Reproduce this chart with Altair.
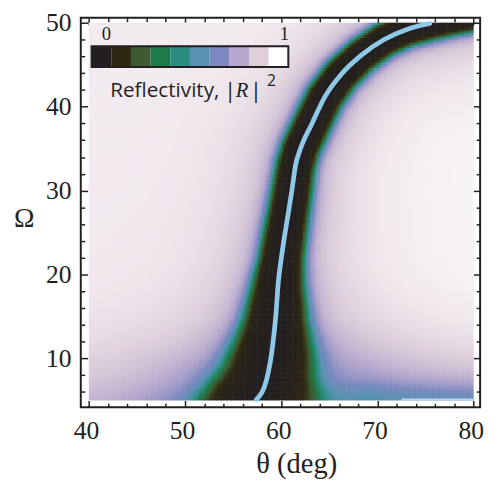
import numpy as np
import pandas as pd
import altair as alt

alt.data_transformers.disable_max_rows()

# ---------------- values ----------------
# light-blue curve (position of the reflectivity minimum)
line_theta = [57.4, 58.5, 59.1, 59.45, 59.7, 59.95, 60.4, 60.8, 61.1, 61.5, 62.0, 63.2, 64.5, 66.2, 68.3, 70.7, 73.05, 75.45]
line_omega = [5.1, 7.6, 11.5, 15.3, 19.2, 21.5, 25.0, 27.8, 30.0, 33.1, 35.0, 38.0, 41.1, 43.8, 46.1, 48.0, 49.2, 49.9]
# dark band continues past the ends of the drawn curve
band_low_theta = [56.9]
band_low_omega = [3.0]
band_high_theta = [77.8, 80.0, 82.0]
band_high_omega = [50.5, 50.95, 51.25]
# width of the dark dip (deg) along the band, against Omega
width_omega = [3, 5, 7.6, 10, 14.6, 19, 22, 28, 34, 41, 48, 52]
width_deg = [6.3, 5.9, 5.0, 4.6, 3.45, 2.75, 2.4, 2.2, 2.05, 2.0, 1.8, 1.75]
# share of the broad halo of the dip, against Omega
halo_omega = [5, 10, 15, 52]
halo_share = [0.42, 0.32, 0.25, 0.25]
# weak second branch lying just under Omega = 5 on the right
branch_theta = [72.5, 80.0]
branch_omega = [4.85, 4.85]
branch_onset = [62.0, 69.0]
branch_depth = 0.3
branch_width = 2.3
# faint overall absorption
bg_theta = [40, 55, 70, 80]
bg_abs = [0.045, 0.035, 0.02, 0.015]
floor_omega = [5, 8, 12, 18]
floor_abs = [0.05, 0.03, 0.012, 0.0]

# colour bar of the legend (0 -> 1)
cmap_colors = ["#231f20", "#2e2811", "#3e5a31", "#1d7a49", "#2b8c80",
               "#5693b1", "#7b89c0", "#b5a7cd", "#e0d0dc", "#ffffff"]
x_major = [40, 50, 60, 70, 80]
x_minor = [v for v in range(40, 81, 2) if v % 10]
y_major = [10, 20, 30, 40, 50]
y_minor = [v for v in range(6, 51, 2) if v % 10]

# ---------------- build reflectivity map ----------------
PXT, PXO = 9.78, 8.53          # pixel aspect of the two axes
pts_t = np.array(band_low_theta + line_theta + band_high_theta)
pts_o = np.array(band_low_omega + line_omega + band_high_omega)
dt, do = [], []
for i in range(len(pts_t) - 1):
    f = np.linspace(0, 1, 30, endpoint=False)
    dt.append(pts_t[i] + f * (pts_t[i + 1] - pts_t[i]))
    do.append(pts_o[i] + f * (pts_o[i + 1] - pts_o[i]))
dt.append([pts_t[-1]]); do.append([pts_o[-1]])
dt = np.concatenate(dt); do = np.concatenate(do)

nt, no = 160, 150
st, so = 40.0 / nt, 45.0 / no
tc = 40 + (np.arange(nt) + 0.5) * st
oc = 5 + (np.arange(no) + 0.5) * so
rows = []
for j, o in enumerate(oc):
    d2 = ((tc[:, None] - dt[None, :]) * PXT) ** 2 + ((o - do[None, :]) * PXO) ** 2
    d = np.sqrt(d2.min(axis=1))
    s = np.interp(o, width_omega, width_deg) * PXT
    x = d / s
    T = np.interp(o, halo_omega, halo_share)
    a_main = (1 - T) / (1 + x ** 8) + T / (1 + (x / 1.6) ** 2)
    ramp = np.clip((tc - branch_onset[0]) / (branch_onset[1] - branch_onset[0]), 0, 1)
    a2 = branch_depth * ramp / (1 + ((o - np.interp(tc, branch_theta, branch_omega)) / branch_width) ** 2)
    bg = np.interp(tc, bg_theta, bg_abs) + np.interp(o, floor_omega, floor_abs)
    R = (1 - a_main) * (1 - a2) * (1 - bg)
    t0 = 40 + np.arange(nt) * st
    o0 = 5 + j * so
    for i in range(nt):
        rows.append((round(t0[i], 3), round(min(t0[i] + st * 1.25, 80.0), 3),
                     round(o0, 3), round(min(o0 + so * 1.25, 50.0), 3), round(float(R[i]), 3)))
heat_df = pd.DataFrame(rows, columns=["t0", "t1", "o0", "o1", "R"])
line_df = pd.DataFrame({"theta": line_theta, "omega": line_omega})
branch_df = pd.DataFrame({"t0": [branch_theta[0]], "t1": [branch_theta[1]], "o0": [5.0], "o1": [5.22]})

# ---------------- chart ----------------
serif = "Liberation Serif"
sans = "Open Sans"
ink = "#231f20"
XD = [39.16, 80.67]
YD = [4.18, 50.58]
W, H, TOP, LEFT = 406, 396, 14, 82
xs = alt.Scale(domain=XD, nice=False, zero=False)
ys = alt.Scale(domain=YD, nice=False, zero=False)
cs = alt.Scale(domain=[i / 9 for i in range(10)], range=cmap_colors, interpolate="rgb", clamp=True)


def px_t(px):   # page pixel -> theta (for placing the legend)
    return XD[0] + (px - LEFT) / W * (XD[1] - XD[0])


def px_o(py):   # page pixel -> Omega
    return YD[1] - (py - TOP) / H * (YD[1] - YD[0])


def tick_axis(orient, vals, size):
    return alt.Axis(orient=orient, values=vals, labels=False, ticks=True,
                    tickSize=alt.ExprRef(expr=str(-size)), tickColor=ink, tickWidth=1.5,
                    domain=False, grid=False, title=None)


heat = alt.Chart(heat_df).mark_rect(strokeWidth=0).encode(
    x=alt.X("t0:Q", scale=xs, axis=alt.Axis(
        orient="bottom", values=x_major, ticks=False, domain=False, grid=False,
        labelFont=serif, labelFontSize=26, labelColor=ink, labelPadding=32, labelOffset=-3,
        labelBaseline="alphabetic", labelFlush=False, labelOverlap=False,
        title="θ (deg)", titleFont=serif, titleFontSize=29, titleFontWeight="normal",
        titleColor=ink, titleX=219, titleY=66, titleBaseline="alphabetic", titleAlign="center")),
    x2="t1",
    y=alt.Y("o0:Q", scale=ys, axis=alt.Axis(
        orient="left", values=y_major, ticks=False, domain=False, grid=False,
        labelFont=serif, labelFontSize=26, labelColor=ink, labelPadding=10,
        labelBaseline="middle", labelFlush=False, labelOverlap=False,
        title="Ω", titleFont=serif, titleFontSize=28, titleFontWeight="normal",
        titleColor=ink, titleAngle=0, titleX=-58, titleY=204,
        titleBaseline="middle", titleAlign="center")),
    y2="o1",
    color=alt.Color("R:Q", scale=cs, legend=None),
)

branch = alt.Chart(branch_df).mark_rect(color="#b9d9ea").encode(
    x=alt.X("t0:Q", scale=xs, axis=None), x2="t1",
    y=alt.Y("o0:Q", scale=ys, axis=None), y2="o1")

line = alt.Chart(line_df).mark_line(color="#8ec9e8", strokeWidth=4.8, strokeCap="round",
                                    interpolate="monotone").encode(
    x=alt.X("theta:Q", scale=xs, axis=None), y=alt.Y("omega:Q", scale=ys, axis=None))

# legend (placed at the reference's pixel position)
LT0, LT1, LO0, LO1 = px_t(93), px_t(293), px_o(64), px_o(43)
wsw = (LT1 - LT0) / 10
sw_df = pd.DataFrame({"t0": [LT0 + i * wsw for i in range(10)],
                      "t1": [LT0 + (i + 1) * wsw for i in range(10)],
                      "o0": [LO0] * 10, "o1": [LO1] * 10,
                      "R": [i / 9 for i in range(10)]})
swatch = alt.Chart(sw_df).mark_rect().encode(
    x=alt.X("t0:Q", scale=xs, axis=None), x2="t1",
    y=alt.Y("o0:Q", scale=ys, axis=None), y2="o1",
    color=alt.Color("R:Q", scale=cs, legend=None))
box = alt.Chart(pd.DataFrame({"t0": [LT0], "t1": [LT1], "o0": [LO0], "o1": [LO1]})).mark_rect(
    fill=None, fillOpacity=0, stroke=ink, strokeWidth=2).encode(
    x=alt.X("t0:Q", scale=xs, axis=None), x2="t1",
    y=alt.Y("o0:Q", scale=ys, axis=None), y2="o1")


def txt(df, **kw):
    return alt.Chart(df).mark_text(color=ink, baseline="alphabetic", **kw).encode(
        x=alt.X("t:Q", scale=xs, axis=None), y=alt.Y("o:Q", scale=ys, axis=None), text="s:N")


t_nums = txt(pd.DataFrame({"t": [px_t(108), px_t(289)], "o": [px_o(37), px_o(37)], "s": ["0", "1"]}),
             font=serif, fontSize=19, align="center")
t_word = txt(pd.DataFrame({"t": [px_t(112)], "o": [px_o(94)], "s": ["Reflectivity,"]}),
             font=sans, fontSize=21, align="left")
t_bars = txt(pd.DataFrame({"t": [px_t(234), px_t(260)], "o": [px_o(96), px_o(96)], "s": ["|", "|"]}),
             font=sans, fontSize=22, align="center")
t_R = txt(pd.DataFrame({"t": [px_t(246)], "o": [px_o(94)], "s": ["R"]}),
          font=serif, fontSize=21, fontStyle="italic", align="center")
t_sup = txt(pd.DataFrame({"t": [px_t(276)], "o": [px_o(83)], "s": ["2"]}),
            font=sans, fontSize=16, align="center")

dummy = alt.Chart(line_df).mark_point(opacity=0, size=1)
ax1 = dummy.encode(x=alt.X("theta:Q", scale=xs, axis=tick_axis("bottom", x_major, 7)),
                   y=alt.Y("omega:Q", scale=ys, axis=tick_axis("left", y_major, 7)))
ax2 = dummy.encode(x=alt.X("theta:Q", scale=xs, axis=tick_axis("bottom", x_minor, 4)),
                   y=alt.Y("omega:Q", scale=ys, axis=tick_axis("left", y_minor, 4)))
ax3 = dummy.encode(x=alt.X("theta:Q", scale=xs, axis=tick_axis("top", x_major, 7)),
                   y=alt.Y("omega:Q", scale=ys, axis=tick_axis("right", y_major, 7)))
ax4 = dummy.encode(x=alt.X("theta:Q", scale=xs, axis=tick_axis("top", x_minor, 4)),
                   y=alt.Y("omega:Q", scale=ys, axis=tick_axis("right", y_minor, 4)))

chart = alt.layer(heat, branch, line, swatch, box, t_nums, t_word, t_bars, t_R, t_sup,
                  ax1, ax2, ax3, ax4).resolve_axis(
    x="independent", y="independent"
).properties(
    width=W, height=H,
    autosize=alt.AutoSizeParams(type="none"),
    padding={"left": LEFT - 8, "top": TOP - 8, "right": 7, "bottom": 75},
    background="white",
).configure_view(stroke=ink, strokeWidth=2)

chart.save("out.html", embed_options={"renderer": "svg", "actions": False})
